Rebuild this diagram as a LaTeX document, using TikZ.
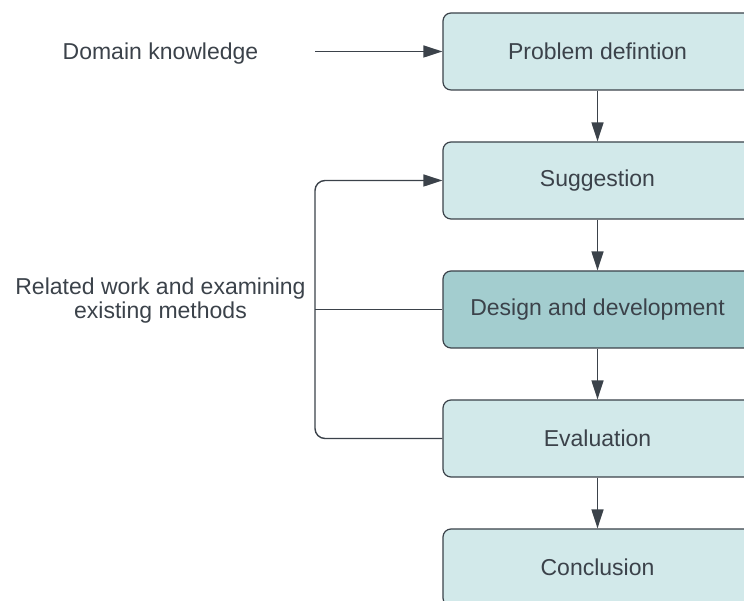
\documentclass[tikz,border=0pt]{standalone}
\usepackage{fontspec}
\setmainfont{Liberation Sans}
\usetikzlibrary{positioning,arrows.meta}
\definecolor{ink}{HTML}{3B424A}
\definecolor{boxlight}{HTML}{D2E9EA}
\definecolor{boxdark}{HTML}{A3CDCF}
\tikzset{
  stage/.style={draw=ink, line width=1.2pt, rounded corners=8pt, fill=boxlight,
    minimum width=309pt, minimum height=77pt, inner sep=0pt, text=ink,
    font=\fontsize{23}{24}\selectfont},
  flow/.style={draw=ink, line width=1.4pt, -{Triangle[length=19pt,width=12pt]}},
  link/.style={draw=ink, line width=1.4pt},
  note/.style={text=ink, align=center, inner sep=0pt,
    font=\fontsize{23}{24}\selectfont},
}
\begin{document}
\begin{tikzpicture}[x=1pt,y=1pt]
    \clip (0,0) rectangle (744,601);
    % stages of the method, top to bottom
    \node[stage] (prob) at (597.5,549.5) {Problem defintion};
    \node[stage, below=50.8pt of prob] (sugg) {Suggestion};
    \node[stage, below=50.8pt of sugg, fill=boxdark] (dev) {Design and development};
    \node[stage, below=50.8pt of dev] (eval) {Evaluation};
    \node[stage, below=50.8pt of eval] (concl) {Conclusion};
    \draw[flow] (prob) -- (sugg);
    \draw[flow] (sugg) -- (dev);
    \draw[flow] (dev) -- (eval);
    \draw[flow] (eval) -- (concl);
    % inputs on the left
    \coordinate (bus) at (315,300);
    \node[note] (domain) at (160.5,547.5) {Domain knowledge};
    \node[note] (related) at (160.5,300.5) {Related work and examining\\existing methods};
    \draw[flow] (prob.west -| bus) -- (prob.west);
    \draw[flow, rounded corners=10pt] (eval.west) -- (eval.west -| bus) -- (sugg.west -| bus) -- (sugg.west);
    \draw[link] (dev.west) -- (dev.west -| bus);
\end{tikzpicture}
\end{document}
